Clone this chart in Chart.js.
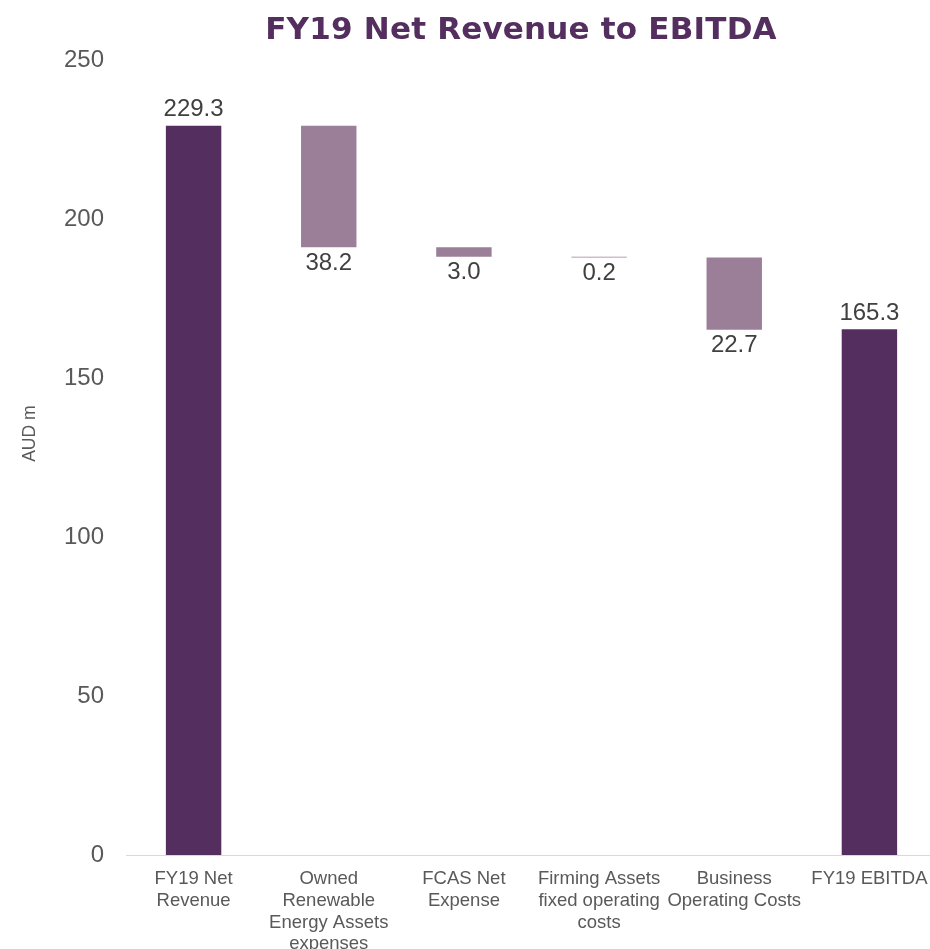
<!DOCTYPE html>
<html>
<head>
<meta charset="utf-8">
<script src="https://cdn.jsdelivr.net/npm/chart.js@4/dist/chart.umd.min.js"></script>
<style>
  html, body { margin: 0; padding: 0; background: #fff; overflow: hidden; }
  #wrap { position: relative; width: 940px; height: 949px; }
  #title {
    position: absolute; top: 10px; left: 0; width: 1042px; text-align: center;
    font: bold 31px "DejaVu Sans", Arial, sans-serif; color: #532e5f; letter-spacing: 0.2px;
  }
</style>
</head>
<body>
<div id="wrap">
  <canvas id="chart" width="940" height="949"></canvas>
  <div id="title">FY19 Net Revenue to EBITDA</div>
</div>
<script>
const categories = [
  ['FY19 Net', 'Revenue'],
  ['Owned', 'Renewable', 'Energy Assets', 'expenses'],
  ['FCAS Net', 'Expense'],
  ['Firming Assets', 'fixed operating', 'costs'],
  ['Business', 'Operating Costs'],
  ['FY19 EBITDA']
];
const steps = [229.3, -38.2, -3.0, -0.2, -22.7, 165.3];
const isTotal = [true, false, false, false, false, true];
const yTicks = [0, 50, 100, 150, 200, 250];
const yTitle = 'AUD m';

const DARK = '#532e5f';
const LIGHT = '#9b7f99';
const FONT = '"Liberation Sans", Arial, sans-serif';

// build floating bars from the steps
let running = 0;
const bars = steps.map((v, i) => {
  if (isTotal[i]) { running = v; return [0, v]; }
  const top = running;
  running = running + v;
  return [running, top];
});

const valueLabels = {
  id: 'valueLabels',
  afterDatasetsDraw(chart) {
    const ctx = chart.ctx;
    const meta = chart.getDatasetMeta(0);
    ctx.save();
    ctx.font = '24px ' + FONT;
    ctx.fillStyle = '#404040';
    ctx.textAlign = 'center';
    meta.data.forEach((bar, i) => {
      const txt = Math.abs(steps[i]).toFixed(1);
      const props = bar.getProps(['x', 'y', 'base'], true);
      if (isTotal[i]) {
        ctx.textBaseline = 'bottom';
        ctx.fillText(txt, props.x, Math.min(props.y, props.base) - 4);
      } else {
        ctx.textBaseline = 'top';
        ctx.fillText(txt, props.x, Math.max(props.y, props.base) + 4);
      }
    });
    // y axis title, sits a little above the middle of the axis
    const area = chart.chartArea;
    ctx.translate(30, area.top + (area.bottom - area.top) * 0.47);
    ctx.rotate(-Math.PI / 2);
    ctx.font = '17.5px ' + FONT;
    ctx.fillStyle = '#595959';
    ctx.textBaseline = 'middle';
    ctx.fillText(yTitle, 0, 0);
    ctx.restore();
  }
};

new Chart(document.getElementById('chart'), {
  type: 'bar',
  data: {
    labels: categories,
    datasets: [{
      data: bars,
      backgroundColor: isTotal.map(t => t ? DARK : LIGHT),
      borderWidth: 0,
      borderSkipped: false,
      barPercentage: 0.41,
      categoryPercentage: 1
    }]
  },
  options: {
    responsive: false,
    animation: false,
    layout: { padding: { top: 60, right: 3, left: 0, bottom: 0 } },
    plugins: {
      legend: { display: false },
      tooltip: { enabled: false },
      title: { display: false }
    },
    scales: {
      x: {
        grid: { display: false },
        border: { display: true, color: '#d9d9d9', width: 1 },
        ticks: {
          color: '#595959',
          font: { family: FONT, size: 18.5, lineHeight: 1.18 },
          maxRotation: 0, minRotation: 0, autoSkip: false, padding: 5
        },
        afterFit(scale) { scale.height = 94; }
      },
      y: {
        min: 0, max: 250,
        grid: { display: false, drawTicks: false },
        border: { display: false },
        afterBuildTicks(scale) { scale.ticks = yTicks.map(v => ({ value: v })); },
        ticks: {
          color: '#595959',
          font: { family: FONT, size: 24 },
          padding: 22
        },
        afterFit(scale) { scale.width = 126; }
      }
    }
  },
  plugins: [valueLabels]
});
</script>
</body>
</html>
